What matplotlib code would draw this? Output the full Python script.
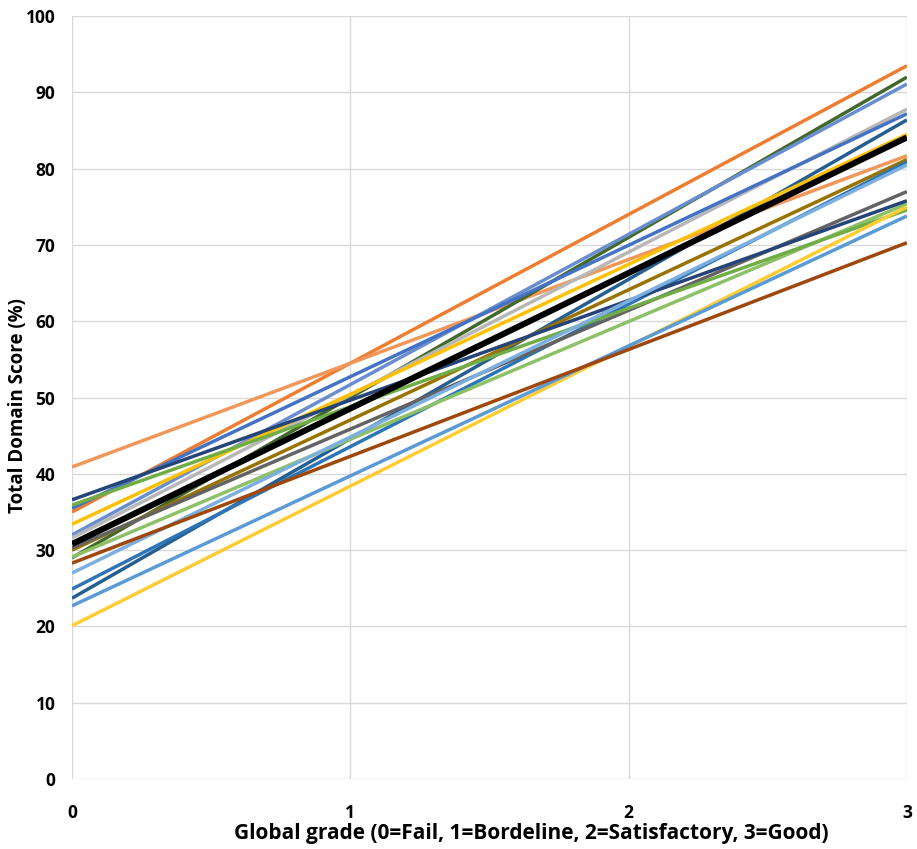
import matplotlib
matplotlib.use("Agg")
import matplotlib.pyplot as plt

plt.rcParams['font.family'] = ['Open Sans', 'DejaVu Sans']
plt.rcParams['font.weight'] = 'bold'

# Each series is a straight line from grade 0 to grade 3
grades = [0, 3]
series_colors = [
    '#ED7D31', '#F1975A', '#43682B', '#698ED0', '#B7B7B7', '#4472C4',
    '#255E91', '#FFC000', '#997300', '#2E75B6', '#636363', '#8CC168',
    '#70AD47', '#264478', '#FFCD33', '#5B9BD5', '#7CAFDD', '#9E480E',
]
score_at_fail = [35.0, 40.9, 29.0, 32.0, 31.6, 35.5, 23.7, 33.4, 30.0,
                 24.9, 30.3, 29.1, 35.9, 36.6, 20.1, 22.7, 27.0, 28.3]
score_at_good = [93.5, 81.7, 92.0, 91.1, 87.8, 87.2, 86.4, 84.5, 81.2,
                 80.9, 77.0, 75.4, 74.6, 75.8, 75.0, 73.8, 80.5, 70.3]
mean_line = [30.8, 84.1]

fig = plt.figure(figsize=(9.17, 8.49), dpi=100)
ax = fig.add_axes([0.0785, 0.0824, 0.9105, 0.8986])

for c, a, b in zip(series_colors, score_at_fail, score_at_good):
    ax.plot(grades, [a, b], color=c, lw=2.5, solid_capstyle='butt', zorder=2)
ax.plot(grades, mean_line, color='black', lw=4.4, solid_capstyle='butt', zorder=3)

ax.set_xlim(0, 3)
ax.set_ylim(0, 100)
ax.set_xticks([0, 1, 2, 3])
ax.set_yticks(range(0, 101, 10))
ax.grid(True, color='#D9D9D9', lw=1.0, zorder=0)
ax.set_axisbelow(True)
for s in ax.spines.values():
    s.set_visible(False)
ax.tick_params(length=0, labelsize=12.5)
for lab in ax.get_xticklabels() + ax.get_yticklabels():
    lab.set_fontweight('bold')
ax.tick_params(axis='x', pad=18)
ax.tick_params(axis='y', pad=12)

ax.set_xlabel('Global grade (0=Fail, 1=Bordeline, 2=Satisfactory, 3=Good)',
              fontsize=15, fontweight='bold')
ax.xaxis.set_label_coords(0.55, -0.058)
ax.set_ylabel('Total Domain Score (%)', fontsize=13.5, fontweight='bold')
ax.yaxis.set_label_coords(-0.053, 0.49)

fig.savefig('out.png', dpi=100)
